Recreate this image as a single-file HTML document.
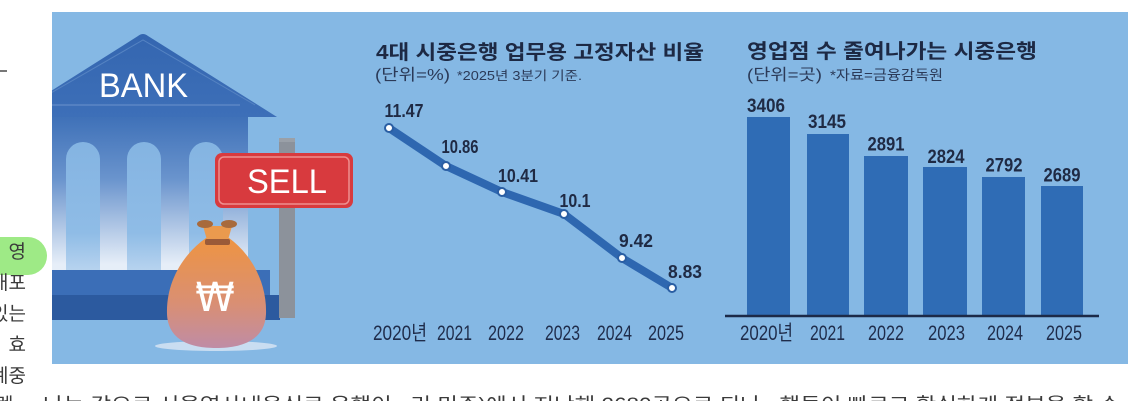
<!DOCTYPE html>
<html><head><meta charset="utf-8"><style>
html,body{margin:0;padding:0;background:#fff;}
body{width:1147px;height:401px;overflow:hidden;}
svg{display:block;}
.kt{font-family:"Liberation Sans","Noto Sans CJK KR",sans-serif;}
</style></head><body>
<svg width="1147" height="401" viewBox="0 0 1147 401" xmlns="http://www.w3.org/2000/svg">
<defs>
<clipPath id="pc"><rect x="52" y="12" width="1076" height="352"/></clipPath>
<linearGradient id="body" x1="0" y1="0" x2="0" y2="1">
<stop offset="0" stop-color="#3f71b8"/>
<stop offset="0.4" stop-color="#6a94cd"/>
<stop offset="0.95" stop-color="#e6eef8"/>
</linearGradient>
<linearGradient id="col" x1="0" y1="0" x2="0" y2="1">
<stop offset="0" stop-color="#84b4e2"/>
<stop offset="0.7" stop-color="#8fbce6"/>
<stop offset="1" stop-color="#b9d4ef"/>
</linearGradient>
<linearGradient id="roof" x1="0" y1="0" x2="0" y2="1">
<stop offset="0" stop-color="#3466b0"/>
<stop offset="1" stop-color="#3d6fb8"/>
</linearGradient>
<linearGradient id="bag" x1="0" y1="0" x2="0" y2="1">
<stop offset="0" stop-color="#ee9442"/>
<stop offset="0.6" stop-color="#d98f74"/>
<stop offset="1" stop-color="#bf8ca6"/>
</linearGradient>
</defs>

<!-- left margin text -->
<rect x="0" y="70" width="7" height="2" fill="#777"/>
<rect x="-20" y="237" width="67" height="38" rx="19" fill="#9eea86"/>
<g class="kt" font-size="19" fill="#3b3b3b" text-anchor="end">
<text x="26" y="258">영</text>
<text x="26" y="289">내포</text>
<text x="26" y="320">있는</text>
<text x="26" y="351">효</text>
<text x="26" y="382">계중</text>
</g>
<text class="kt" x="-4" y="411" font-size="19" fill="#3b3b3b">렌</text>
<text class="kt" x="43" y="411" font-size="19" fill="#3b3b3b" textLength="1077" lengthAdjust="spacingAndGlyphs">나는 같으로 서울역사내음식로 운행이 , 리 미주)에서 지난해 2680곳으로 되나 , 행들이 빠르고 확실하게 점부을 할 수</text>

<!-- panel -->
<rect x="52" y="12" width="1076" height="352" fill="#85b8e4"/>

<g clip-path="url(#pc)">
<rect x="40" y="117" width="208" height="155" fill="url(#body)"/>
<path d="M66 159 A17 17 0 0 1 100 159 L100 272 L66 272 Z" fill="url(#col)"/>
<path d="M127 159 A17 17 0 0 1 161 159 L161 272 L127 272 Z" fill="url(#col)"/>
<path d="M189 159 A17 17 0 0 1 223 159 L223 272 L189 272 Z" fill="url(#col)"/>
<path d="M10 117 L138 36 Q143 32 148 36 L277 117 Z" fill="url(#roof)"/>
<line x1="40" y1="105" x2="240" y2="105" stroke="#6b93cc" stroke-width="1"/>
<path d="M30 105 L143 40 L255 105" fill="none" stroke="#5583c2" stroke-width="1"/>
<text x="99" y="97" font-family="Liberation Sans, sans-serif" font-size="34" fill="#fff" textLength="89" lengthAdjust="spacingAndGlyphs">BANK</text>
<rect x="40" y="270" width="230" height="25" fill="#3b6eb7"/>
<rect x="40" y="295" width="240" height="25" fill="#2c5a9f"/>
</g>

<rect x="279" y="138" width="16" height="180" fill="#8c929b"/>
<rect x="279" y="138" width="16" height="4" fill="#9aa0a8"/>
<rect x="215" y="153" width="138" height="55" rx="7" fill="#d83a3e"/>
<rect x="219" y="157" width="130" height="47" rx="5" fill="none" stroke="#ee8f8f" stroke-width="1.5"/>
<text x="247" y="193" font-family="Liberation Sans, sans-serif" font-size="34" fill="#fff" textLength="80" lengthAdjust="spacingAndGlyphs">SELL</text>

<ellipse cx="216" cy="346" rx="61" ry="5" fill="#c9ddf1"/>
<path d="M206 238 C182 255 166 283 167 314 C168 340 190 348 216 348 C242 348 265 340 266 314 C267 283 252 255 229 238 Z" fill="url(#bag)"/>
<path d="M203 226 L232 226 L228 240 L207 240 Z" fill="#ea9a4e"/>
<rect x="205" y="239" width="25" height="6" rx="2" fill="#9a5a38"/>
<ellipse cx="205" cy="224" rx="8" ry="4" fill="#a86a3c"/>
<ellipse cx="229" cy="224" rx="8" ry="4" fill="#a86a3c"/>
<text x="215" y="311" text-anchor="middle" font-family="DejaVu Sans, sans-serif" font-size="40" fill="#fff">₩</text>

<!-- line chart -->
<text class="kt" x="376" y="59" font-size="20" font-weight="bold" fill="#1d2944" textLength="328" lengthAdjust="spacingAndGlyphs">4대 시중은행 업무용 고정자산 비율</text>
<text class="kt" x="375" y="80" font-size="16" fill="#2b3a58" textLength="75" lengthAdjust="spacingAndGlyphs">(단위=%)</text>
<text class="kt" x="457" y="80" font-size="12.5" fill="#2b3a58" textLength="125" lengthAdjust="spacingAndGlyphs">*2025년 3분기 기준.</text>

<polyline points="389,128 446,166 502,192 564,214 622,258 672,288" fill="none" stroke="#2e67b0" stroke-width="8" stroke-linejoin="round" stroke-linecap="round"/>
<g fill="#fff" stroke="#2a5ea3" stroke-width="2">
<circle cx="389" cy="128" r="4"/>
<circle cx="446" cy="166" r="4"/>
<circle cx="502" cy="192" r="4"/>
<circle cx="564" cy="214" r="4"/>
<circle cx="622" cy="258" r="4"/>
<circle cx="672" cy="288" r="4"/>
</g>
<g font-family="Liberation Sans, sans-serif" font-size="18.5" font-weight="bold" fill="#1f2a44" text-anchor="middle">
<text x="404" y="117" textLength="39" lengthAdjust="spacingAndGlyphs">11.47</text>
<text x="460" y="153" textLength="37" lengthAdjust="spacingAndGlyphs">10.86</text>
<text x="518" y="182" textLength="40" lengthAdjust="spacingAndGlyphs">10.41</text>
<text x="575" y="207" textLength="31" lengthAdjust="spacingAndGlyphs">10.1</text>
<text x="636" y="247" textLength="34" lengthAdjust="spacingAndGlyphs">9.42</text>
<text x="685" y="278" textLength="34" lengthAdjust="spacingAndGlyphs">8.83</text>
</g>
<g class="kt" font-size="21" fill="#1f2c4a">
<text x="373" y="340" textLength="54" lengthAdjust="spacingAndGlyphs">2020년</text>
<text x="437" y="340" textLength="35" lengthAdjust="spacingAndGlyphs">2021</text>
<text x="488" y="340" textLength="36" lengthAdjust="spacingAndGlyphs">2022</text>
<text x="545" y="340" textLength="35" lengthAdjust="spacingAndGlyphs">2023</text>
<text x="597" y="340" textLength="35" lengthAdjust="spacingAndGlyphs">2024</text>
<text x="648" y="340" textLength="36" lengthAdjust="spacingAndGlyphs">2025</text>
</g>

<!-- bar chart -->
<text class="kt" x="747" y="58" font-size="20" font-weight="bold" fill="#1d2944" textLength="290" lengthAdjust="spacingAndGlyphs">영업점 수 줄여나가는 시중은행</text>
<text class="kt" x="747" y="80" font-size="16" fill="#2b3a58" textLength="75" lengthAdjust="spacingAndGlyphs">(단위=곳)</text>
<text class="kt" x="830" y="80" font-size="14" fill="#2b3a58" textLength="113" lengthAdjust="spacingAndGlyphs">*자료=금융감독원</text>

<g fill="#2f6cb5">
<rect x="747" y="117" width="43" height="199"/>
<rect x="807" y="134" width="42" height="182"/>
<rect x="864" y="156" width="44" height="160"/>
<rect x="923" y="167" width="44" height="149"/>
<rect x="982" y="177" width="43" height="139"/>
<rect x="1041" y="186" width="42" height="130"/>
</g>
<line x1="725" y1="316" x2="1099" y2="316" stroke="#1c2a48" stroke-width="2.5"/>
<g font-family="Liberation Sans, sans-serif" font-size="19.5" font-weight="bold" fill="#1f2a44" text-anchor="middle">
<text x="766" y="112" textLength="38" lengthAdjust="spacingAndGlyphs">3406</text>
<text x="827" y="128" textLength="38" lengthAdjust="spacingAndGlyphs">3145</text>
<text x="886" y="150.5" textLength="37" lengthAdjust="spacingAndGlyphs">2891</text>
<text x="946" y="163" textLength="37" lengthAdjust="spacingAndGlyphs">2824</text>
<text x="1004" y="171.5" textLength="37" lengthAdjust="spacingAndGlyphs">2792</text>
<text x="1062" y="181.5" textLength="37" lengthAdjust="spacingAndGlyphs">2689</text>
</g>
<g class="kt" font-size="21" fill="#1f2c4a">
<text x="740" y="340" textLength="53" lengthAdjust="spacingAndGlyphs">2020년</text>
<text x="810" y="340" textLength="35" lengthAdjust="spacingAndGlyphs">2021</text>
<text x="868" y="340" textLength="36" lengthAdjust="spacingAndGlyphs">2022</text>
<text x="928" y="340" textLength="37" lengthAdjust="spacingAndGlyphs">2023</text>
<text x="987" y="340" textLength="36" lengthAdjust="spacingAndGlyphs">2024</text>
<text x="1046" y="340" textLength="36" lengthAdjust="spacingAndGlyphs">2025</text>
</g>
</svg>
</body></html>
